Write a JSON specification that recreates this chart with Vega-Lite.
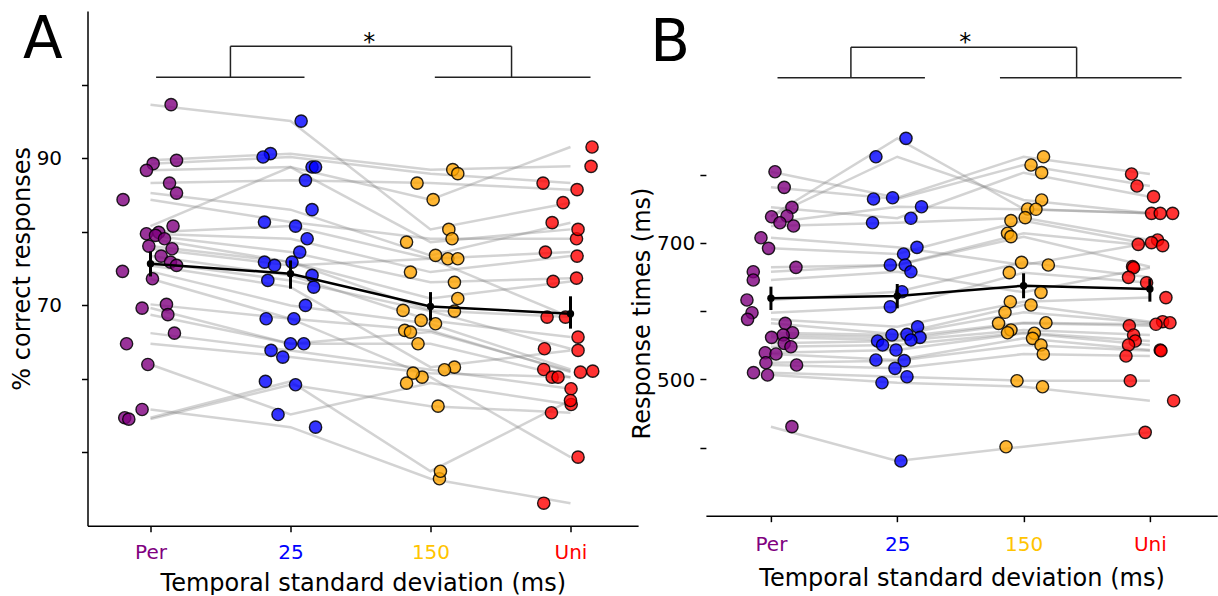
{
"$schema": "https://vega.github.io/schema/vega-lite/v6.json",
"background": "white",
"padding": {"left": 10.5, "top": 11, "right": 0, "bottom": 0},
"bounds": "flush",
"spacing": 67.4,
"config": {
  "font": "DejaVu Sans",
  "view": {"stroke": null},
  "axis": {"grid": false, "domainColor": "black", "domainWidth": 1.5, "tickColor": "black", "tickWidth": 1.5, "tickSize": 6, "labelFont": "DejaVu Sans", "labelFontSize": 20, "labelColor": "black", "titleFont": "DejaVu Sans", "titleFontSize": 24, "titleFontWeight": "normal", "titleColor": "black", "labelOverlap": false, "labelFlush": false}
},
"datasets": {
  "acc": [
    {"s":1,"c":1,"v":97.26,"j":1.147},{"s":1,"c":2,"v":95.03,"j":2.076},{"s":1,"c":3,"v":80.3,"j":3.131},{"s":1,"c":4,"v":83.93,"j":3.947},
    {"s":2,"c":1,"v":89.69,"j":1.186},{"s":2,"c":2,"v":90.6,"j":1.857},{"s":2,"c":3,"v":88.42,"j":3.159},{"s":2,"c":4,"v":88.87,"j":4.147},
    {"s":3,"c":1,"v":89.24,"j":1.019},{"s":3,"c":2,"v":90.14,"j":1.804},{"s":3,"c":3,"v":87.88,"j":3.195},{"s":3,"c":4,"v":86.6,"j":3.804},
    {"s":4,"c":1,"v":88.33,"j":0.971},{"s":4,"c":2,"v":88.78,"j":2.154},{"s":4,"c":3,"v":84.34,"j":3.019},{"s":4,"c":4,"v":91.5,"j":4.154},
    {"s":5,"c":1,"v":86.6,"j":1.136},{"s":5,"c":2,"v":86.97,"j":2.107},{"s":5,"c":3,"v":86.6,"j":2.904},{"s":5,"c":4,"v":85.7,"j":4.047},
    {"s":6,"c":1,"v":85.24,"j":1.186},{"s":6,"c":2,"v":82.98,"j":2.154},{"s":6,"c":3,"v":76.76,"j":3.036},{"s":6,"c":4,"v":81.21,"j":3.869},
    {"s":7,"c":1,"v":84.34,"j":0.804},{"s":7,"c":2,"v":81.29,"j":1.814},{"s":7,"c":3,"v":79.03,"j":3.154},{"s":7,"c":4,"v":79.03,"j":4.043},
    {"s":8,"c":1,"v":80.75,"j":1.161},{"s":8,"c":2,"v":88.78,"j":2.179},{"s":8,"c":3,"v":78.57,"j":2.829},{"s":8,"c":4,"v":80.3,"j":4.054},
    {"s":9,"c":1,"v":79.9,"j":1.059},{"s":9,"c":2,"v":80.75,"j":2.036},{"s":9,"c":3,"v":76.31,"j":3.124},{"s":9,"c":4,"v":77.21,"j":3.821},
    {"s":10,"c":1,"v":79.71,"j":0.971},{"s":10,"c":2,"v":79.03,"j":2.119},{"s":10,"c":3,"v":74.49,"j":2.857},{"s":10,"c":4,"v":76.67,"j":4.047},
    {"s":11,"c":1,"v":79.48,"j":1.036},{"s":11,"c":2,"v":77.21,"j":2.066},{"s":11,"c":3,"v":73.1,"j":3.171},{"s":11,"c":4,"v":73.67,"j":4.043},
    {"s":12,"c":1,"v":79.03,"j":1.1},{"s":12,"c":2,"v":75.85,"j":1.814},{"s":12,"c":3,"v":69.28,"j":2.804},{"s":12,"c":4,"v":68.37,"j":3.833},
    {"s":13,"c":1,"v":78.03,"j":0.988},{"s":13,"c":2,"v":75.85,"j":2.011},{"s":13,"c":3,"v":70.9,"j":3.195},{"s":13,"c":4,"v":73.22,"j":3.876},
    {"s":14,"c":1,"v":77.67,"j":1.154},{"s":14,"c":2,"v":75.4,"j":1.886},{"s":14,"c":3,"v":76.31,"j":3.195},{"s":14,"c":4,"v":68.37,"j":3.964},
    {"s":15,"c":1,"v":76.67,"j":1.076},{"s":15,"c":2,"v":74.04,"j":2.154},{"s":15,"c":3,"v":67.92,"j":2.933},{"s":15,"c":4,"v":65.65,"j":4.054},
    {"s":16,"c":1,"v":75.85,"j":1.143},{"s":16,"c":2,"v":73.36,"j":1.838},{"s":16,"c":3,"v":69.18,"j":3.171},{"s":16,"c":4,"v":64.07,"j":3.814},
    {"s":17,"c":1,"v":75.4,"j":1.186},{"s":17,"c":2,"v":72.45,"j":2.166},{"s":17,"c":3,"v":61.56,"j":3.171},{"s":17,"c":4,"v":63.84,"j":4.054},
    {"s":18,"c":1,"v":74.59,"j":0.8},{"s":18,"c":2,"v":69.96,"j":2.107},{"s":18,"c":3,"v":67.47,"j":3.036},{"s":18,"c":4,"v":61.25,"j":3.809},
    {"s":19,"c":1,"v":73.59,"j":1.014},{"s":19,"c":2,"v":68.15,"j":1.826},{"s":19,"c":3,"v":66.56,"j":2.816},{"s":19,"c":4,"v":60.88,"j":4.071},
    {"s":20,"c":1,"v":70.1,"j":1.114},{"s":20,"c":2,"v":68.15,"j":2.024},{"s":20,"c":3,"v":60.2,"j":2.94},{"s":20,"c":4,"v":49.32,"j":4.054},
    {"s":21,"c":1,"v":69.6,"j":0.94},{"s":21,"c":2,"v":64.75,"j":2.0},{"s":21,"c":3,"v":66.33,"j":2.857},{"s":21,"c":4,"v":61.02,"j":4.159},
    {"s":22,"c":1,"v":68.7,"j":1.124},{"s":22,"c":2,"v":64.75,"j":2.095},{"s":22,"c":3,"v":64.75,"j":2.911},{"s":22,"c":4,"v":60.2,"j":3.869},
    {"s":23,"c":1,"v":66.19,"j":1.171},{"s":23,"c":2,"v":63.84,"j":1.861},{"s":23,"c":3,"v":61.21,"j":3.1},{"s":23,"c":4,"v":58.63,"j":4.004},
    {"s":24,"c":1,"v":64.75,"j":0.829},{"s":24,"c":2,"v":62.93,"j":1.945},{"s":24,"c":3,"v":60.75,"j":2.876},{"s":24,"c":4,"v":60.2,"j":3.911},
    {"s":25,"c":1,"v":61.93,"j":0.981},{"s":25,"c":2,"v":55.13,"j":1.911},{"s":25,"c":3,"v":59.39,"j":2.829},{"s":25,"c":4,"v":56.49,"j":4.005},
    {"s":26,"c":1,"v":55.81,"j":0.94},{"s":26,"c":2,"v":53.4,"j":2.179},{"s":26,"c":3,"v":46.38,"j":3.064},{"s":26,"c":4,"v":43.06,"j":3.809},
    {"s":27,"c":1,"v":54.68,"j":0.816},{"s":27,"c":2,"v":59.62,"j":1.821},{"s":27,"c":3,"v":47.41,"j":3.071},{"s":27,"c":4,"v":57.03,"j":4.0},
    {"s":28,"c":1,"v":54.49,"j":0.845},{"s":28,"c":2,"v":59.17,"j":2.036},{"s":28,"c":3,"v":56.26,"j":3.054},{"s":28,"c":4,"v":55.36,"j":3.864}
  ],
  "rt": [
    {"s":1,"c":1,"v":804.6,"j":1.032},{"s":1,"c":2,"v":766.5,"j":1.963},{"s":1,"c":3,"v":826.6,"j":3.158},{"s":1,"c":4,"v":801.3,"j":3.855},
    {"s":2,"c":1,"v":781.7,"j":1.105},{"s":2,"c":2,"v":764.6,"j":1.812},{"s":2,"c":3,"v":814.5,"j":3.059},{"s":2,"c":4,"v":783.7,"j":3.898},
    {"s":3,"c":1,"v":752.4,"j":1.166},{"s":3,"c":2,"v":736.3,"j":2.108},{"s":3,"c":3,"v":803.2,"j":3.143},{"s":3,"c":4,"v":768.0,"j":4.029},
    {"s":4,"c":1,"v":739.6,"j":1.127},{"s":4,"c":2,"v":853.6,"j":2.069},{"s":4,"c":3,"v":749.9,"j":3.032},{"s":4,"c":4,"v":743.6,"j":4.013},
    {"s":5,"c":1,"v":738.6,"j":1.005},{"s":5,"c":2,"v":826.6,"j":1.831},{"s":5,"c":3,"v":763.1,"j":3.143},{"s":5,"c":4,"v":743.6,"j":4.082},
    {"s":6,"c":1,"v":729.8,"j":1.071},{"s":6,"c":2,"v":753.3,"j":2.192},{"s":6,"c":3,"v":749.5,"j":3.098},{"s":6,"c":4,"v":743.6,"j":4.18},
    {"s":7,"c":1,"v":725.0,"j":1.179},{"s":7,"c":2,"v":729.8,"j":1.804},{"s":7,"c":3,"v":737.2,"j":3.013},{"s":7,"c":4,"v":704.4,"j":4.061},
    {"s":8,"c":1,"v":707.8,"j":0.921},{"s":8,"c":2,"v":693.7,"j":2.156},{"s":8,"c":3,"v":667.8,"j":3.196},{"s":8,"c":4,"v":700.5,"j":4.013},
    {"s":9,"c":1,"v":692.2,"j":0.981},{"s":9,"c":2,"v":683.9,"j":2.05},{"s":9,"c":3,"v":732.8,"j":2.9},{"s":9,"c":4,"v":698.1,"j":3.908},
    {"s":10,"c":1,"v":664.4,"j":1.198},{"s":10,"c":2,"v":667.8,"j":1.945},{"s":10,"c":3,"v":714.3,"j":2.873},{"s":10,"c":4,"v":696.1,"j":4.101},
    {"s":11,"c":1,"v":657.9,"j":0.86},{"s":11,"c":2,"v":667.8,"j":2.063},{"s":11,"c":3,"v":709.3,"j":2.9},{"s":11,"c":4,"v":665.3,"j":3.863},
    {"s":12,"c":1,"v":645.8,"j":0.86},{"s":12,"c":2,"v":657.9,"j":2.108},{"s":12,"c":3,"v":627.7,"j":3.138},{"s":12,"c":4,"v":663.8,"j":3.871},
    {"s":13,"c":1,"v":616.4,"j":0.81},{"s":13,"c":2,"v":628.6,"j":2.037},{"s":13,"c":3,"v":671.7,"j":2.984},{"s":13,"c":4,"v":649.7,"j":3.831},
    {"s":14,"c":1,"v":597.8,"j":0.85},{"s":14,"c":2,"v":606.6,"j":1.945},{"s":14,"c":3,"v":656.5,"j":2.887},{"s":14,"c":4,"v":641.8,"j":3.974},
    {"s":15,"c":1,"v":588.1,"j":0.815},{"s":15,"c":2,"v":577.2,"j":2.161},{"s":15,"c":3,"v":613.9,"j":2.895},{"s":15,"c":4,"v":620.0,"j":4.127},
    {"s":16,"c":1,"v":582.2,"j":1.113},{"s":16,"c":2,"v":566.1,"j":2.077},{"s":16,"c":3,"v":609.1,"j":3.059},{"s":16,"c":4,"v":584.6,"j":4.101},
    {"s":17,"c":1,"v":568.4,"j":1.171},{"s":17,"c":2,"v":565.1,"j":1.958},{"s":17,"c":3,"v":598.4,"j":2.853},{"s":17,"c":4,"v":583.1,"j":4.159},
    {"s":18,"c":1,"v":565.1,"j":1.097},{"s":18,"c":2,"v":561.7,"j":2.18},{"s":18,"c":3,"v":583.1,"j":3.177},{"s":18,"c":4,"v":580.8,"j":4.048},
    {"s":19,"c":1,"v":561.7,"j":1.005},{"s":19,"c":2,"v":557.7,"j":2.108},{"s":19,"c":3,"v":582.2,"j":2.802},{"s":19,"c":4,"v":578.7,"j":3.837},
    {"s":20,"c":1,"v":552.9,"j":1.105},{"s":20,"c":2,"v":556.3,"j":1.844},{"s":20,"c":3,"v":572.4,"j":2.9},{"s":20,"c":4,"v":565.1,"j":3.871},
    {"s":21,"c":1,"v":547.9,"j":1.158},{"s":21,"c":2,"v":550.4,"j":1.884},{"s":21,"c":3,"v":568.4,"j":2.873},{"s":21,"c":4,"v":556.3,"j":3.884},
    {"s":22,"c":1,"v":539.1,"j":0.955},{"s":22,"c":2,"v":543.1,"j":1.99},{"s":22,"c":3,"v":567.6,"j":3.085},{"s":22,"c":4,"v":550.4,"j":3.831},
    {"s":23,"c":1,"v":537.2,"j":1.04},{"s":23,"c":2,"v":528.4,"j":1.831},{"s":23,"c":3,"v":560.2,"j":3.071},{"s":23,"c":4,"v":543.1,"j":4.082},
    {"s":24,"c":1,"v":524.4,"j":0.96},{"s":24,"c":2,"v":527.4,"j":2.055},{"s":24,"c":3,"v":550.4,"j":3.138},{"s":24,"c":4,"v":542.0,"j":4.088},
    {"s":25,"c":1,"v":521.1,"j":1.203},{"s":25,"c":2,"v":516.2,"j":1.982},{"s":25,"c":3,"v":537.2,"j":3.156},{"s":25,"c":4,"v":534.3,"j":3.811},
    {"s":26,"c":1,"v":509.8,"j":0.862},{"s":26,"c":2,"v":503.9,"j":2.077},{"s":26,"c":3,"v":498.0,"j":2.948},{"s":26,"c":4,"v":498.0,"j":3.845},
    {"s":27,"c":1,"v":506.4,"j":0.973},{"s":27,"c":2,"v":495.1,"j":1.879},{"s":27,"c":3,"v":489.2,"j":3.15},{"s":27,"c":4,"v":468.7,"j":4.188},
    {"s":28,"c":1,"v":430.6,"j":1.166},{"s":28,"c":2,"v":380.2,"j":2.029},{"s":28,"c":3,"v":401.2,"j":2.861},{"s":28,"c":4,"v":422.3,"j":3.963}
  ],
  "accMean": [{"c":1,"m":75.63,"lo":73.9,"hi":77.3},{"c":2,"m":74.27,"lo":72.23,"hi":76.08},{"c":3,"m":69.82,"lo":67.92,"hi":71.77},{"c":4,"m":68.83,"lo":66.8,"hi":71.2}],
  "rtMean": [{"c":1,"m":618.9,"lo":601.7,"hi":636},{"c":2,"m":622.3,"lo":604.2,"hi":639.9},{"c":3,"m":637.4,"lo":619,"hi":655.6},{"c":4,"m":632.6,"lo":614,"hi":648}],
  "accBr": [{"a":1.04,"b":2.1,"p":100.98,"q":100.98},{"a":3.031,"b":4.143,"p":100.98,"q":100.98},{"a":1.571,"b":1.571,"p":100.98,"q":105.2},{"a":3.579,"b":3.579,"p":100.98,"q":105.2},{"a":1.571,"b":3.579,"p":105.2,"q":105.2}],
  "rtBr": [{"a":1.052,"b":2.219,"p":942.5,"q":942.5},{"a":2.813,"b":4.251,"p":942.5,"q":942.5},{"a":1.633,"b":1.633,"p":942.5,"q":987.1},{"a":3.42,"b":3.42,"p":942.5,"q":987.1},{"a":1.633,"b":3.42,"p":987.1,"q":987.1}],
  "accTxt": [{"x":2.52,"y":104.73,"t":"*","f":"star"},{"x":0.089,"y":103.56,"t":"A","f":"letter"}],
  "rtTxt": [{"x":2.49,"y":982.6,"t":"*","f":"star"},{"x":0.044,"y":967.0,"t":"B","f":"letter"}],
  "accTick": [{"v":70},{"v":90}],
  "rtTick": [{"v":500},{"v":700}]
},
"hconcat": [
  {
    "width": 550.6, "height": 514.7,
    "layer": [
      {"data": {"name": "acc"}, "mark": {"type": "line", "stroke": "#808080", "strokeWidth": 2.5, "opacity": 0.35},
       "encoding": {
         "x": {"field": "c", "type": "quantitative", "scale": {"domain": [0.55, 4.483], "nice": false, "zero": false},
               "axis": {"title": "Temporal standard deviation (ms)", "values": [1,2,3,4], "labelExpr": "datum.value == 1 ? 'Per' : datum.value == 2 ? '25' : datum.value == 3 ? '150' : 'Uni'",
                        "labelColor": {"condition": [{"test": "datum.value == 1", "value": "#800080"}, {"test": "datum.value == 2", "value": "#0000FF"}, {"test": "datum.value == 3", "value": "#FFC400"}], "value": "#FF0000"},
                        "labelBaseline": "alphabetic", "labelPadding": 26.6, "titleY": 64.3, "titleBaseline": "alphabetic"}},
         "y": {"field": "v", "type": "quantitative", "scale": {"domain": [40, 110], "nice": false, "zero": false},
               "axis": {"title": "% correct responses", "values": [50,60,70,80,90,100], "labels": false, "titleX": -58, "titleBaseline": "alphabetic"}},
         "detail": {"field": "s"},
         "order": {"field": "c"}
       }},
      {"data": {"name": "acc"}, "mark": {"type": "point", "shape": "circle", "filled": true, "size": 150, "stroke": "black", "strokeWidth": 1.4, "fillOpacity": 0.8, "strokeOpacity": 0.85},
       "encoding": {
         "x": {"field": "j", "type": "quantitative", "scale": {"domain": [0.55, 4.483], "nice": false, "zero": false}},
         "y": {"field": "v", "type": "quantitative", "scale": {"domain": [40, 110], "nice": false, "zero": false}},
         "fill": {"field": "c", "type": "nominal", "scale": {"domain": [1,2,3,4], "range": ["#800080", "#0000FF", "#FFA500", "#FF0000"]}, "legend": null}
       }},
      {"data": {"name": "accMean"}, "mark": {"type": "line", "color": "black", "strokeWidth": 2.5},
       "encoding": {
         "x": {"field": "c", "type": "quantitative", "scale": {"domain": [0.55, 4.483], "nice": false, "zero": false}},
         "y": {"field": "m", "type": "quantitative", "scale": {"domain": [40, 110], "nice": false, "zero": false}}
       }},
      {"data": {"name": "accMean"}, "mark": {"type": "rule", "color": "black", "strokeWidth": 3},
       "encoding": {
         "x": {"field": "c", "type": "quantitative", "scale": {"domain": [0.55, 4.483], "nice": false, "zero": false}},
         "y": {"field": "lo", "type": "quantitative", "scale": {"domain": [40, 110], "nice": false, "zero": false}},
         "y2": {"field": "hi"}
       }},
      {"data": {"name": "accMean"}, "mark": {"type": "point", "shape": "circle", "filled": true, "size": 55, "color": "black", "opacity": 1},
       "encoding": {
         "x": {"field": "c", "type": "quantitative", "scale": {"domain": [0.55, 4.483], "nice": false, "zero": false}},
         "y": {"field": "m", "type": "quantitative", "scale": {"domain": [40, 110], "nice": false, "zero": false}}
       }},
      {"data": {"name": "accBr"}, "mark": {"type": "rule", "color": "#222222", "strokeWidth": 1.5},
       "encoding": {
         "x": {"field": "a", "type": "quantitative", "scale": {"domain": [0.55, 4.483], "nice": false, "zero": false}},
         "x2": {"field": "b"},
         "y": {"field": "p", "type": "quantitative", "scale": {"domain": [40, 110], "nice": false, "zero": false}},
         "y2": {"field": "q"}
       }},
      {"data": {"name": "accTxt"}, "mark": {"type": "text", "baseline": "alphabetic", "align": "left", "color": "black", "font": "DejaVu Sans"},
       "encoding": {
         "x": {"field": "x", "type": "quantitative", "scale": {"domain": [0.55, 4.483], "nice": false, "zero": false}},
         "y": {"field": "y", "type": "quantitative", "scale": {"domain": [40, 110], "nice": false, "zero": false}},
         "text": {"field": "t", "type": "nominal"},
         "size": {"field": "f", "type": "nominal", "scale": {"domain": ["star", "letter"], "range": [24, 58]}, "legend": null}
       }},
      {"data": {"name": "accTick"}, "mark": {"type": "text", "baseline": "alphabetic", "align": "right", "color": "black", "font": "DejaVu Sans", "fontSize": 20, "dx": -25.4, "dy": 7.3},
       "encoding": {
         "x": {"datum": 0.55, "type": "quantitative", "scale": {"domain": [0.55, 4.483], "nice": false, "zero": false}},
         "y": {"field": "v", "type": "quantitative", "scale": {"domain": [40, 110], "nice": false, "zero": false}},
         "text": {"field": "v", "type": "quantitative"}
       }}
    ]
  },
  {
    "width": 511.3, "height": 504.7,
    "layer": [
      {"data": {"name": "rt"}, "mark": {"type": "line", "stroke": "#808080", "strokeWidth": 2.5, "opacity": 0.35},
       "encoding": {
         "x": {"field": "c", "type": "quantitative", "scale": {"domain": [0.485, 4.533], "nice": false, "zero": false},
               "axis": {"title": "Temporal standard deviation (ms)", "values": [1,2,3,4], "labelExpr": "datum.value == 1 ? 'Per' : datum.value == 2 ? '25' : datum.value == 3 ? '150' : 'Uni'",
                        "labelColor": {"condition": [{"test": "datum.value == 1", "value": "#800080"}, {"test": "datum.value == 2", "value": "#0000FF"}, {"test": "datum.value == 3", "value": "#FFC400"}], "value": "#FF0000"},
                        "labelBaseline": "alphabetic", "labelPadding": 29, "titleY": 69.3, "titleBaseline": "alphabetic"}},
         "y": {"field": "v", "type": "quantitative", "scale": {"domain": [300, 1040.4], "nice": false, "zero": false},
               "axis": {"title": "Response times (ms)", "domain": false, "values": [400,500,600,700,800], "labels": false, "titleX": -56, "titleY": 302, "titleBaseline": "alphabetic"}},
         "detail": {"field": "s"},
         "order": {"field": "c"}
       }},
      {"data": {"name": "rt"}, "mark": {"type": "point", "shape": "circle", "filled": true, "size": 150, "stroke": "black", "strokeWidth": 1.4, "fillOpacity": 0.8, "strokeOpacity": 0.85},
       "encoding": {
         "x": {"field": "j", "type": "quantitative", "scale": {"domain": [0.485, 4.533], "nice": false, "zero": false}},
         "y": {"field": "v", "type": "quantitative", "scale": {"domain": [300, 1040.4], "nice": false, "zero": false}},
         "fill": {"field": "c", "type": "nominal", "scale": {"domain": [1,2,3,4], "range": ["#800080", "#0000FF", "#FFA500", "#FF0000"]}, "legend": null}
       }},
      {"data": {"name": "rtMean"}, "mark": {"type": "line", "color": "black", "strokeWidth": 2.5},
       "encoding": {
         "x": {"field": "c", "type": "quantitative", "scale": {"domain": [0.485, 4.533], "nice": false, "zero": false}},
         "y": {"field": "m", "type": "quantitative", "scale": {"domain": [300, 1040.4], "nice": false, "zero": false}}
       }},
      {"data": {"name": "rtMean"}, "mark": {"type": "rule", "color": "black", "strokeWidth": 3},
       "encoding": {
         "x": {"field": "c", "type": "quantitative", "scale": {"domain": [0.485, 4.533], "nice": false, "zero": false}},
         "y": {"field": "lo", "type": "quantitative", "scale": {"domain": [300, 1040.4], "nice": false, "zero": false}},
         "y2": {"field": "hi"}
       }},
      {"data": {"name": "rtMean"}, "mark": {"type": "point", "shape": "circle", "filled": true, "size": 55, "color": "black", "opacity": 1},
       "encoding": {
         "x": {"field": "c", "type": "quantitative", "scale": {"domain": [0.485, 4.533], "nice": false, "zero": false}},
         "y": {"field": "m", "type": "quantitative", "scale": {"domain": [300, 1040.4], "nice": false, "zero": false}}
       }},
      {"data": {"name": "rtBr"}, "mark": {"type": "rule", "color": "#222222", "strokeWidth": 1.5},
       "encoding": {
         "x": {"field": "a", "type": "quantitative", "scale": {"domain": [0.485, 4.533], "nice": false, "zero": false}},
         "x2": {"field": "b"},
         "y": {"field": "p", "type": "quantitative", "scale": {"domain": [300, 1040.4], "nice": false, "zero": false}},
         "y2": {"field": "q"}
       }},
      {"mark": {"type": "rule", "color": "black", "strokeWidth": 1.5},
       "encoding": {
         "x": {"datum": 0.485, "type": "quantitative", "scale": {"domain": [0.485, 4.533], "nice": false, "zero": false}},
         "y": {"datum": 300, "type": "quantitative", "scale": {"domain": [300, 1040.4], "nice": false, "zero": false}},
         "y2": {"datum": 893.6}
       }},
      {"data": {"name": "rtTxt"}, "mark": {"type": "text", "baseline": "alphabetic", "align": "left", "color": "black", "font": "DejaVu Sans"},
       "encoding": {
         "x": {"field": "x", "type": "quantitative", "scale": {"domain": [0.485, 4.533], "nice": false, "zero": false}},
         "y": {"field": "y", "type": "quantitative", "scale": {"domain": [300, 1040.4], "nice": false, "zero": false}},
         "text": {"field": "t", "type": "nominal"},
         "size": {"field": "f", "type": "nominal", "scale": {"domain": ["star", "letter"], "range": [24, 58]}, "legend": null}
       }},
      {"data": {"name": "rtTick"}, "mark": {"type": "text", "baseline": "alphabetic", "align": "right", "color": "black", "font": "DejaVu Sans", "fontSize": 20, "dx": -10.7, "dy": 7.3},
       "encoding": {
         "x": {"datum": 0.485, "type": "quantitative", "scale": {"domain": [0.485, 4.533], "nice": false, "zero": false}},
         "y": {"field": "v", "type": "quantitative", "scale": {"domain": [300, 1040.4], "nice": false, "zero": false}},
         "text": {"field": "v", "type": "quantitative"}
       }}
    ]
  }
]
}
